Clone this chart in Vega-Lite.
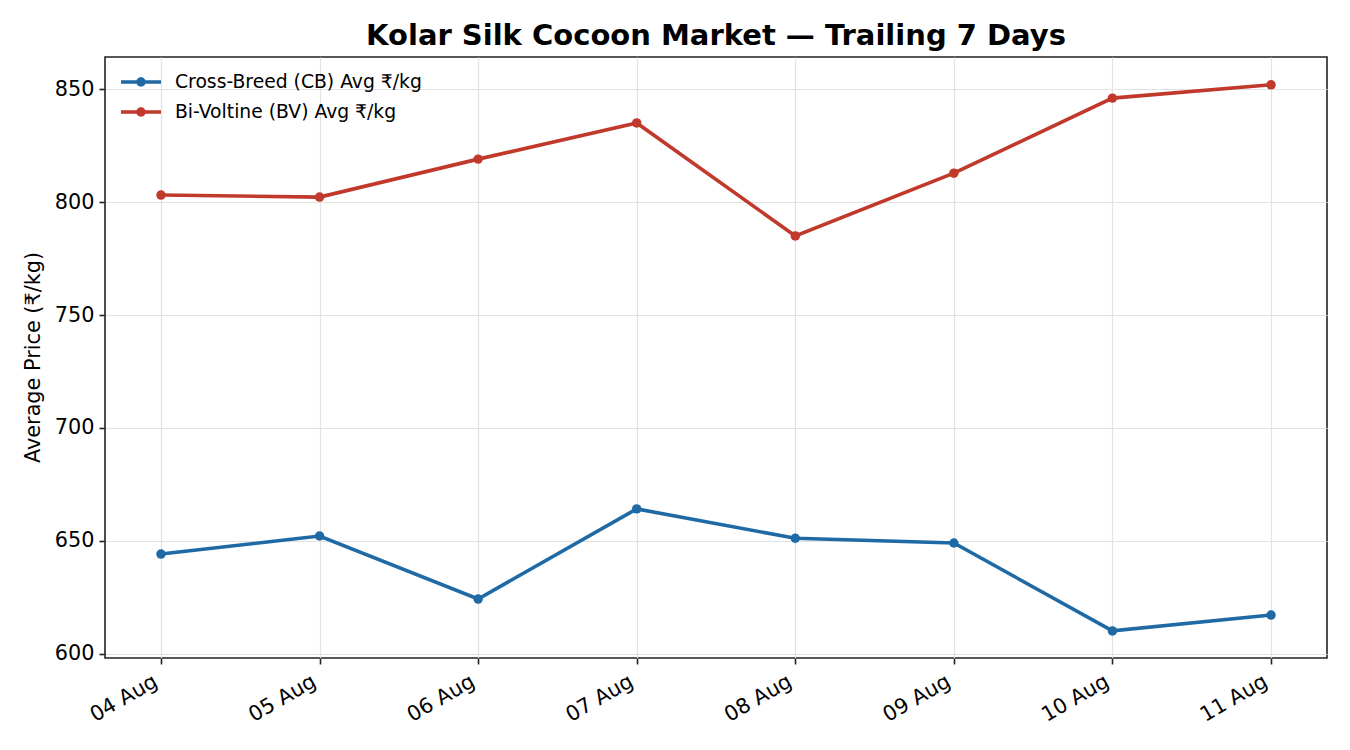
{
  "$schema": "https://vega.github.io/schema/vega-lite/v6.json",
  "autosize": {"type": "none"},
  "padding": {"left": 105, "top": 57, "right": 23, "bottom": 92},
  "width": 1222,
  "height": 601,
  "background": "white",
  "title": {
    "text": "Kolar Silk Cocoon Market — Trailing 7 Days",
    "font": "DejaVu Sans",
    "fontSize": 29,
    "fontWeight": "bold",
    "color": "#000000",
    "anchor": "middle",
    "baseline": "alphabetic",
    "offset": -17
  },
  "config": {
    "view": {"stroke": "#222222", "strokeWidth": 1.6},
    "font": "DejaVu Sans",
    "axis": {
      "labelFont": "DejaVu Sans",
      "labelFontSize": 20.8,
      "labelColor": "#000000",
      "titleFont": "DejaVu Sans",
      "titleFontSize": 20.8,
      "titleFontWeight": "normal",
      "titleColor": "#000000",
      "domain": false,
      "tickColor": "#222222",
      "tickWidth": 1.6,
      "tickSize": 6,
      "gridColor": "#e2e2e2",
      "gridWidth": 1.2
    }
  },
  "data": {
    "values": [
      {"date": "04 Aug", "series": "Cross-Breed (CB) Avg ₹/kg", "price": 644.2},
      {"date": "05 Aug", "series": "Cross-Breed (CB) Avg ₹/kg", "price": 652.2},
      {"date": "06 Aug", "series": "Cross-Breed (CB) Avg ₹/kg", "price": 624.3},
      {"date": "07 Aug", "series": "Cross-Breed (CB) Avg ₹/kg", "price": 664.2},
      {"date": "08 Aug", "series": "Cross-Breed (CB) Avg ₹/kg", "price": 651.2},
      {"date": "09 Aug", "series": "Cross-Breed (CB) Avg ₹/kg", "price": 649.1},
      {"date": "10 Aug", "series": "Cross-Breed (CB) Avg ₹/kg", "price": 610.2},
      {"date": "11 Aug", "series": "Cross-Breed (CB) Avg ₹/kg", "price": 617.2},
      {"date": "04 Aug", "series": "Bi-Voltine (BV) Avg ₹/kg", "price": 803.1},
      {"date": "05 Aug", "series": "Bi-Voltine (BV) Avg ₹/kg", "price": 802.2},
      {"date": "06 Aug", "series": "Bi-Voltine (BV) Avg ₹/kg", "price": 819.0},
      {"date": "07 Aug", "series": "Bi-Voltine (BV) Avg ₹/kg", "price": 835.0},
      {"date": "08 Aug", "series": "Bi-Voltine (BV) Avg ₹/kg", "price": 785.0},
      {"date": "09 Aug", "series": "Bi-Voltine (BV) Avg ₹/kg", "price": 812.8},
      {"date": "10 Aug", "series": "Bi-Voltine (BV) Avg ₹/kg", "price": 846.0},
      {"date": "11 Aug", "series": "Bi-Voltine (BV) Avg ₹/kg", "price": 851.9}
    ]
  },
  "encoding": {
    "x": {
      "field": "date",
      "type": "ordinal",
      "sort": ["04 Aug", "05 Aug", "06 Aug", "07 Aug", "08 Aug", "09 Aug", "10 Aug", "11 Aug"],
      "scale": {"type": "point", "padding": 0.353},
      "axis": {
        "title": null,
        "grid": true,
        "labelAngle": -30,
        "labelAlign": "right",
        "labelBaseline": "top",
        "labelPadding": 7,
        "labelOffset": -10.5
      }
    },
    "y": {
      "field": "price",
      "type": "quantitative",
      "scale": {"domain": [598.2, 864.2], "nice": false, "zero": false},
      "axis": {
        "title": "Average Price (₹/kg)",
        "values": [600, 650, 700, 750, 800, 850],
        "grid": true,
        "labelPadding": 5,
        "titleX": -72,
        "titleY": 300,
        "titleAngle": -90,
        "titleAlign": "center",
        "titleBaseline": "middle"
      }
    },
    "color": {
      "field": "series",
      "type": "nominal",
      "scale": {
        "domain": ["Cross-Breed (CB) Avg ₹/kg", "Bi-Voltine (BV) Avg ₹/kg"],
        "range": ["#1f6aa5", "#c0392b"]
      },
      "legend": {
        "title": null,
        "orient": "none",
        "legendX": 16,
        "legendY": 5,
        "padding": 0,
        "labelFont": "DejaVu Sans",
        "labelFontSize": 18.75,
        "labelColor": "#000000",
        "labelLimit": 0,
        "labelOffset": 14,
        "rowPadding": -1.5,
        "symbolType": "M-1,-0.09L1,-0.09L1,0.09L-1,0.09Z M0.235,0A0.235,0.235,0,1,1,-0.235,0A0.235,0.235,0,1,1,0.235,0Z",
        "symbolSize": 1600,
        "symbolStrokeWidth": 0,
        "encode": {
          "symbols": {"update": {"fill": {"scale": "color", "field": "value"}, "fillOpacity": {"value": 1}}}
        }
      }
    }
  },
  "layer": [
    {"mark": {"type": "line", "strokeWidth": 3.6}},
    {"mark": {"type": "point", "filled": true, "size": 90, "opacity": 1}}
  ]
}
